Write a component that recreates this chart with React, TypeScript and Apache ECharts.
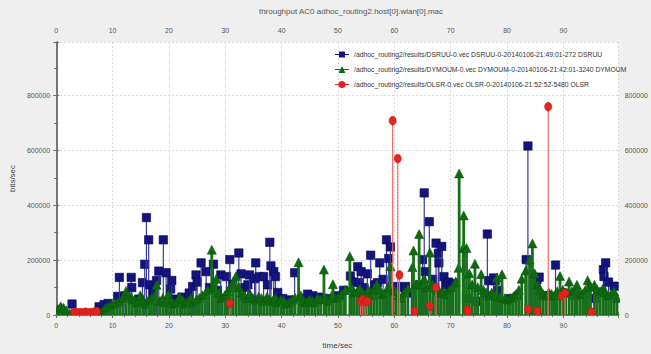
import React, { useEffect, useRef } from "react";
import * as echarts from "echarts";

const TITLE = "throughput AC0 adhoc_routing2.host[0].wlan[0].mac";
const SERIES_NAMES = [
  "/adhoc_routing2/results/DSRUU-0.vec DSRUU-0-20140106-21:49:01-272 DSRUU",
  "/adhoc_routing2/results/DYMOUM-0.vec DYMOUM-0-20140106-21:42:01-3240 DYMOUM",
  "/adhoc_routing2/results/OLSR-0.vec OLSR-0-20140106-21:52:52-5480 OLSR",
];
const X_AXIS_NAME = "time/sec";
const Y_AXIS_NAME = "bits/sec";
const X_MAX = 99.8;
const Y_MAX = 995000;

// [time (sec), throughput (bits/sec)]
const dsruu: number[][] = [
  [2.8, 40000], [7.6, 30000], [8.5, 38000], [9.2, 42000], [10.9, 68000], [11.2, 137000],
  [12.2, 70000], [13.3, 137000], [13.4, 100000], [14.7, 58000], [15.3, 118000], [15.7, 185000],
  [16.0, 355000], [16.4, 274000], [16.6, 110000], [17.2, 82000], [17.8, 126000], [18.2, 160000],
  [19.0, 274000], [19.5, 154000], [20.3, 95000], [20.5, 126000], [20.8, 58000], [21.5, 50000],
  [22.3, 65000], [23.0, 58000], [23.6, 80000], [24.2, 104000], [24.8, 146000], [25.0, 120000],
  [25.7, 190000], [26.6, 158000], [27.2, 100000], [27.9, 185000], [28.6, 90000], [29.2, 146000],
  [30.2, 140000], [30.8, 202000], [31.3, 110000], [32.4, 226000], [32.8, 150000], [33.5, 100000],
  [34.0, 110000], [34.3, 146000], [35.2, 132000], [35.4, 190000], [36.0, 140000], [36.8, 140000],
  [37.5, 110000], [37.9, 265000], [38.1, 179000], [38.6, 158000], [38.9, 140000], [39.3, 82000],
  [40.2, 60000], [41.5, 55000], [42.3, 154000], [43.5, 60000], [44.6, 76000], [45.5, 70000],
  [46.5, 65000], [48.0, 60000], [50.0, 70000], [51.0, 90000], [52.2, 142000], [52.8, 120000],
  [53.5, 176000], [53.8, 118000], [54.1, 158000], [54.6, 100000], [55.2, 150000], [55.8, 218000],
  [55.9, 72000], [56.5, 110000], [57.0, 118000], [57.4, 190000], [58.0, 130000], [58.6, 274000],
  [59.0, 206000], [59.3, 248000], [60.5, 104000], [61.3, 100000], [62.0, 104000], [63.0, 80000],
  [64.5, 110000], [65.0, 202000], [65.3, 445000], [65.5, 158000], [66.2, 340000], [66.8, 130000],
  [67.4, 262000], [67.8, 224000], [67.9, 190000], [68.4, 250000], [68.8, 140000], [69.2, 110000],
  [69.6, 120000], [70.0, 105000], [70.5, 115000], [72.8, 60000], [74.5, 50000], [76.5, 295000],
  [76.7, 125000], [77.6, 135000], [77.9, 125000], [78.5, 90000], [80.5, 60000], [82.0, 70000],
  [83.4, 202000], [83.7, 616000], [85.3, 128000], [85.7, 138000], [87.0, 70000], [88.6, 182000],
  [90.0, 80000], [92.0, 70000], [94.0, 75000], [95.5, 60000], [97.1, 165000], [97.2, 140000],
  [97.5, 190000], [98.0, 120000], [99.0, 105000],
];

const dymoum: number[][] = [
  [0.3, 20000], [0.8, 30000], [1.3, 25000], [1.8, 15000], [2.4, 4000], [3.5, 3000], [5.0, 3000],
  [6.5, 3000], [7.8, 8000], [8.3, 15000], [8.8, 25000], [9.3, 30000], [9.8, 35000], [10.3, 40000],
  [10.8, 45000], [11.3, 50000], [11.8, 60000], [12.4, 86000], [12.9, 70000], [13.4, 60000],
  [13.9, 55000], [14.4, 45000], [14.9, 70000], [15.4, 50000], [15.9, 40000], [16.4, 55000],
  [16.9, 60000], [17.4, 70000], [17.8, 108000], [18.4, 50000], [18.9, 60000], [19.4, 45000],
  [19.9, 75000], [20.4, 50000], [20.9, 40000], [21.4, 45000], [21.9, 65000], [22.4, 55000],
  [22.9, 40000], [23.4, 50000], [23.9, 60000], [24.4, 45000], [24.9, 55000], [25.4, 60000],
  [25.9, 70000], [26.4, 75000], [26.9, 90000], [27.6, 236000], [27.9, 100000], [28.4, 130000],
  [28.9, 80000], [29.4, 60000], [29.9, 70000], [30.4, 85000], [30.9, 100000], [31.4, 120000],
  [31.9, 140000], [32.4, 100000], [32.9, 80000], [33.4, 70000], [33.9, 60000], [34.4, 75000],
  [34.9, 60000], [35.4, 55000], [35.9, 65000], [36.4, 60000], [36.9, 50000], [37.4, 65000],
  [37.9, 55000], [38.4, 50000], [38.9, 60000], [39.4, 45000], [39.9, 55000], [40.4, 50000],
  [40.9, 40000], [41.4, 45000], [41.9, 55000], [42.4, 60000], [43.0, 190000], [43.4, 70000],
  [43.9, 50000], [44.4, 45000], [44.9, 55000], [45.4, 50000], [45.9, 45000], [46.4, 60000],
  [46.9, 55000], [47.5, 164000], [47.9, 60000], [48.4, 50000], [48.9, 70000], [49.1, 110000],
  [49.6, 60000], [50.1, 65000], [50.6, 75000], [51.3, 90000], [52.1, 212000], [52.4, 100000],
  [52.9, 80000], [53.4, 85000], [53.9, 95000], [54.4, 80000], [54.9, 75000], [55.4, 90000],
  [55.9, 70000], [56.4, 95000], [56.9, 110000], [57.4, 90000], [57.9, 75000], [58.4, 80000],
  [58.9, 100000], [59.3, 176000], [59.8, 90000], [60.3, 85000], [60.8, 70000], [61.3, 60000],
  [61.8, 80000], [62.4, 95000], [63.2, 173000], [63.4, 233000], [63.9, 110000], [64.4, 293000],
  [64.8, 110000], [65.3, 130000], [65.8, 100000], [66.3, 226000], [66.8, 110000], [67.3, 100000],
  [67.8, 90000], [68.3, 80000], [68.8, 85000], [69.3, 75000], [69.8, 90000], [70.3, 100000],
  [70.9, 120000], [71.4, 170000], [71.5, 514000], [72.2, 242000], [72.3, 361000], [72.8, 242000],
  [73.3, 150000], [73.8, 110000], [74.3, 185000], [74.8, 100000], [75.4, 147000], [75.8, 90000],
  [76.3, 80000], [76.8, 70000], [77.3, 80000], [77.8, 70000], [78.2, 135000], [78.7, 65000],
  [79.1, 147000], [79.6, 60000], [80.1, 55000], [80.6, 60000], [81.1, 65000], [81.6, 75000],
  [82.1, 90000], [82.6, 130000], [83.3, 160000], [84.0, 200000], [84.5, 259000], [84.9, 150000],
  [85.4, 110000], [85.9, 90000], [86.4, 75000], [86.9, 70000], [87.4, 80000], [87.9, 75000],
  [88.4, 70000], [88.9, 85000], [89.4, 140000], [89.9, 90000], [90.4, 80000], [91.0, 120000],
  [91.5, 85000], [92.0, 90000], [92.4, 108000], [92.9, 80000], [93.4, 75000], [93.9, 90000],
  [94.3, 125000], [94.8, 100000], [95.5, 108000], [96.0, 90000], [96.5, 85000], [97.0, 95000],
  [97.5, 80000], [98.0, 70000], [98.5, 75000], [99.0, 85000], [99.5, 60000],
];

const olsr: number[][] = [
  [3.2, 10000], [3.7, 8000], [4.2, 9000], [4.7, 8000], [5.2, 10000], [5.7, 8000], [6.2, 9000],
  [6.7, 10000], [7.2, 12000], [30.8, 42000], [54.0, 50000], [54.4, 56000], [54.8, 48000],
  [55.2, 50000], [59.7, 708000], [60.6, 570000], [60.9, 146000], [63.6, 14000], [66.3, 32000],
  [67.4, 100000], [72.9, 18000], [73.1, 12000], [83.7, 20000], [85.4, 14000], [87.3, 759000],
  [89.7, 70000], [90.3, 80000], [95.0, 10000],
];

const COLORS = ["#14147e", "#0e6a10", "#e3241f"];
const STEM_COLORS = ["#3a3aa0", "#17701a", "#e86a66"];
const STEM_WIDTHS = [1.2, 2.8, 1.2];

function makeRender(kind: string, color: string, stem: string, stemWidth: number) {
  return (params: any, api: any) => {
    const x = api.value(0);
    const y = api.value(1);
    const b = api.coord([x, 0]);
    const t = api.coord([x, y]);
    let marker: any;
    if (kind === "square") {
      marker = {
        type: "rect",
        shape: { x: t[0] - 4.2, y: t[1] - 4.2, width: 8.4, height: 8.4 },
        style: { fill: color, stroke: "#0a0a55", lineWidth: 0.6 },
      };
    } else if (kind === "triangle") {
      marker = {
        type: "polygon",
        shape: { points: [[t[0], t[1] - 5], [t[0] + 4.6, t[1] + 4], [t[0] - 4.6, t[1] + 4]] },
        style: { fill: color, stroke: "#0a500a", lineWidth: 0.5 },
      };
    } else {
      marker = {
        type: "ellipse",
        shape: { cx: t[0], cy: t[1], rx: 3.6, ry: 4.4 },
        style: { fill: color, stroke: "#c01010", lineWidth: 0.5 },
      };
    }
    return {
      type: "group",
      children: [
        { type: "line", shape: { x1: b[0], y1: b[1], x2: t[0], y2: t[1] }, style: { stroke: stem, lineWidth: stemWidth } },
        marker,
      ],
    };
  };
}

const ICON_SQUARE = "path://M0,4h14v1h-14z M4,1.5h6v6h-6z";
const ICON_TRIANGLE = "path://M0,4h14v1h-14z M7,1L10.5,8L3.5,8z";
const ICON_CIRCLE = "path://M0,4h14v1h-14z M7,1A3.5,3.5 0 1,1 7,8A3.5,3.5 0 1,1 7,1z";

const FONT = "Liberation Sans, Arial, sans-serif";

export default function App() {
  const ref = useRef<HTMLDivElement>(null);
  useEffect(() => {
    if (!ref.current) return;
    const chart = echarts.init(ref.current, null, { renderer: "svg" });
    const axisLine = { show: true, lineStyle: { color: "#6e6e6e", width: 1.5 } };
    const labelStyle = { fontSize: 7, color: "#555", fontFamily: FONT, formatter: (v: number) => String(v) };
    const xBase = {
      type: "value",
      min: 0,
      max: X_MAX,
      interval: 10,
      axisLine,
      axisTick: { show: true, length: 3, lineStyle: { color: "#6e6e6e" } },
      minorTick: { show: true, splitNumber: 5, length: 2, lineStyle: { color: "#6e6e6e" } },
      minorSplitLine: { show: false },
    };
    const yBase = {
      type: "value",
      min: 0,
      max: Y_MAX,
      interval: 200000,
      axisLine,
      axisTick: { show: true, length: 3, lineStyle: { color: "#6e6e6e" } },
      minorTick: { show: true, splitNumber: 2, length: 2, lineStyle: { color: "#6e6e6e" } },
    };
    const kinds = ["square", "triangle", "circle"];
    const datasets = [dsruu, dymoum, olsr];
    const icons = [ICON_SQUARE, ICON_TRIANGLE, ICON_CIRCLE];
    chart.setOption({
      animation: false,
      backgroundColor: "#efefef",
      grid: { left: 53, right: 19, top: 42, bottom: 35, show: true, backgroundColor: "#ffffff", borderWidth: 0 },
      graphic: [
        {
          type: "text",
          x: 351,
          y: 11,
          style: {
            text: TITLE,
            fontSize: 8,
            fill: "#555",
            align: "center",
            verticalAlign: "middle",
            fontFamily: FONT,
          },
        },
      ],
      legend: {
        orient: "vertical",
        left: 330,
        top: 46,
        itemWidth: 14,
        itemHeight: 9,
        itemGap: 8,
        textStyle: { fontSize: 6.8, color: "#333", fontFamily: FONT },
        data: SERIES_NAMES.map((n, i) => ({ name: n, icon: icons[i] })),
      },
      xAxis: [
        {
          ...xBase,
          position: "bottom",
          name: X_AXIS_NAME,
          nameLocation: "middle",
          nameGap: 26,
          nameTextStyle: { fontSize: 8, color: "#444", fontFamily: FONT },
          axisLabel: { ...labelStyle, margin: 7, showMaxLabel: false },
          splitLine: { show: true, lineStyle: { type: [2, 2], color: "#d8d8d8" } },
        },
        {
          ...xBase,
          position: "top",
          axisLabel: { ...labelStyle, margin: 8, showMaxLabel: false },
          splitLine: { show: false },
        },
      ],
      yAxis: [
        {
          ...yBase,
          position: "left",
          name: Y_AXIS_NAME,
          nameLocation: "middle",
          nameGap: 36,
          nameTextStyle: { fontSize: 8, color: "#444", fontFamily: FONT },
          axisLabel: { ...labelStyle, margin: 6, showMaxLabel: false },
          splitLine: { show: true, lineStyle: { type: [2, 2], color: "#d8d8d8" } },
        },
        {
          ...yBase,
          position: "right",
          axisLabel: { ...labelStyle, margin: 6, showMaxLabel: false },
          splitLine: { show: false },
        },
      ],
      series: datasets.map((d, i) => ({
        type: "custom",
        name: SERIES_NAMES[i],
        xAxisIndex: 0,
        yAxisIndex: 0,
        data: d,
        encode: { x: 0, y: 1 },
        itemStyle: { color: COLORS[i] },
        clip: true,
        z: 2 + i,
        renderItem: makeRender(kinds[i], COLORS[i], STEM_COLORS[i], STEM_WIDTHS[i]),
      })),
    });
    return () => chart.dispose();
  }, []);
  return (
    <div
      ref={ref}
      style={{ position: "fixed", left: 0, top: 0, width: 651, height: 354 }}
    />
  );
}
